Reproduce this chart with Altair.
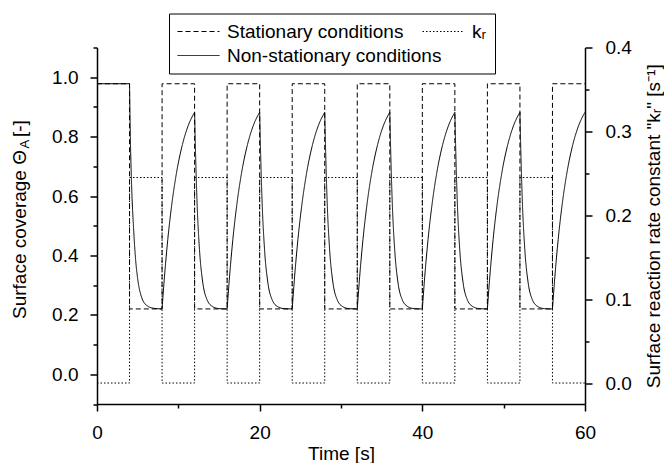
import altair as alt
import pandas as pd

FONT = "Liberation Sans"

# ---- data ----
series_names = ["Stationary conditions", "kᵣ", "Non-stationary conditions"]
# legend fills column by column: first column Stationary / Non-stationary, second k_r
legend_order = ["Stationary conditions", "Non-stationary conditions", "kᵣ"]

# switching instants of the square-wave (s)
step_time = [0, 4, 4, 8, 8, 12, 12, 16, 16, 20, 20, 24, 24, 28, 28, 32,
             32, 36, 36, 40, 40, 44, 44, 48, 48, 52, 52, 56, 56, 60]
# surface reaction rate constant k_r (1/s)
kr_value = [0, 0, 0.245, 0.245, 0, 0, 0.245, 0.245, 0, 0, 0.245, 0.245, 0, 0,
            0.245, 0.245, 0, 0, 0.245, 0.245, 0, 0, 0.245, 0.245, 0, 0,
            0.245, 0.245, 0, 0]
# stationary surface coverage
stat_theta = [0.978, 0.978, 0.22, 0.22, 0.978, 0.978, 0.22, 0.22, 0.978, 0.978,
              0.22, 0.22, 0.978, 0.978, 0.22, 0.22, 0.978, 0.978, 0.22, 0.22,
              0.978, 0.978, 0.22, 0.22, 0.978, 0.978, 0.22, 0.22, 0.978, 0.978]

# non-stationary surface coverage
ns_time = [0, 4, 4.1, 4.25, 4.5, 4.75, 5.0, 5.5, 6.2, 7.0,
           8, 8.3, 8.7, 9.2, 9.8, 10.5, 11.2, 12, 12.1, 12.3, 12.6, 13, 13.5, 14.2, 15,
           16, 16.3, 16.7, 17.2, 17.8, 18.5, 19.2, 20, 20.1, 20.3, 20.6, 21, 21.5, 22.2, 23,
           24, 24.3, 24.7, 25.2, 25.8, 26.5, 27.2, 28, 28.1, 28.3, 28.6, 29, 29.5, 30.2, 31,
           32, 32.3, 32.7, 33.2, 33.8, 34.5, 35.2, 36, 36.1, 36.3, 36.6, 37, 37.5, 38.2, 39,
           40, 40.3, 40.7, 41.2, 41.8, 42.5, 43.2, 44, 44.1, 44.3, 44.6, 45, 45.5, 46.2, 47,
           48, 48.3, 48.7, 49.2, 49.8, 50.5, 51.2, 52, 52.1, 52.3, 52.6, 53, 53.5, 54.2, 55,
           56, 56.3, 56.7, 57.2, 57.8, 58.5, 59.2, 60]
ns_theta = [0.978, 0.978, 0.80, 0.64, 0.49, 0.385, 0.322, 0.258, 0.230, 0.222,
            0.22, 0.33, 0.453, 0.573, 0.682, 0.773, 0.836, 0.882, 0.762, 0.58, 0.42, 0.31, 0.253, 0.228, 0.221,
            0.22, 0.33, 0.453, 0.573, 0.682, 0.773, 0.836, 0.882, 0.762, 0.58, 0.42, 0.31, 0.253, 0.228, 0.221,
            0.22, 0.33, 0.453, 0.573, 0.682, 0.773, 0.836, 0.882, 0.762, 0.58, 0.42, 0.31, 0.253, 0.228, 0.221,
            0.22, 0.33, 0.453, 0.573, 0.682, 0.773, 0.836, 0.882, 0.762, 0.58, 0.42, 0.31, 0.253, 0.228, 0.221,
            0.22, 0.33, 0.453, 0.573, 0.682, 0.773, 0.836, 0.882, 0.762, 0.58, 0.42, 0.31, 0.253, 0.228, 0.221,
            0.22, 0.33, 0.453, 0.573, 0.682, 0.773, 0.836, 0.882, 0.762, 0.58, 0.42, 0.31, 0.253, 0.228, 0.221,
            0.22, 0.33, 0.453, 0.573, 0.682, 0.773, 0.836, 0.882]

x_ticks = [0, 10, 20, 30, 40, 50, 60]
left_ticks = [-0.1, 0.0, 0.1, 0.2, 0.3, 0.4, 0.5, 0.6, 0.7, 0.8, 0.9, 1.0, 1.1]
right_ticks = [0.0, 0.05, 0.1, 0.15, 0.2, 0.25, 0.3, 0.35, 0.4]


def split_monotone(ts, vs):
    """split a polyline into monotone pieces (shared end points)"""
    rows, seg, prev = [], 0, None
    for i in range(len(ts)):
        if i > 0:
            d = vs[i] - vs[i - 1]
            s = (d > 0) - (d < 0)
            if prev is not None and s != prev:
                seg += 1
                rows.append((ts[i - 1], vs[i - 1], seg))
            prev = s
        rows.append((ts[i], vs[i], seg))
    return rows


stat_df = pd.DataFrame({"t": step_time, "v": stat_theta,
                        "series": series_names[0], "i": range(len(step_time))})
kr_df = pd.DataFrame({"t": step_time, "v": kr_value,
                      "series": series_names[1], "i": range(len(step_time))})
ns_rows = split_monotone(ns_time, ns_theta)
ns_df = pd.DataFrame(ns_rows, columns=["t", "v", "seg"])
ns_df["series"] = series_names[2]
ns_df["i"] = range(len(ns_df))

W, H = 488, 356.5

sd = alt.StrokeDash(
    "series:N",
    scale=alt.Scale(domain=series_names, range=[[5, 3], [1.5, 2], [1, 0]]),
    legend=alt.Legend(
        title=None, orient="none", legendX=72, legendY=-34,
        values=legend_order,
        columns=2, gridAlign="none", columnPadding=-20, rowPadding=4,
        padding=8, strokeColor="black", clipHeight=20,
        symbolType="stroke", symbolSize=1764, symbolStrokeWidth=1,
        symbolStrokeColor="black", labelFont=FONT, labelFontSize=19,
        labelColor="black", labelOffset=7, labelLimit=500,
        labelExpr="datum.label == 'kᵣ' ? datum.label + '\u00a0\u00a0\u00a0\u00a0\u00a0\u00a0' : datum.label",
    ),
)

x_enc = alt.X(
    "t:Q", scale=alt.Scale(domain=[0, 60], nice=False),
    axis=alt.Axis(
        values=x_ticks, title="Time [s]",
        labelExpr="datum.value % 20 == 0 ? datum.label : ''",
        tickSize={"condition": {"test": "datum.value % 20 == 0", "value": 7}, "value": 4},
        labelPadding=12, labelFlush=False, labelOverlap=False,
        titleX=W / 2, titleY=55, titleBaseline="alphabetic", titleAlign="center",
    ),
)

left_y = alt.Y(
    "v:Q", scale=alt.Scale(domain=[-0.1, 1.1], nice=False, zero=False),
    axis=alt.Axis(
        orient="left", values=left_ticks, title="",
        labelExpr="abs(round(datum.value*10)) % 2 == 0 ? format(datum.value, '.1f') : ''",
        tickSize={"condition": {"test": "abs(round(datum.value*10)) % 2 == 0", "value": 7}, "value": 4},
        labelPadding=12, labelOverlap=False,
    ),
)

right_y = alt.Y(
    "v:Q", scale=alt.Scale(domain=[-0.025, 0.4], nice=False, zero=False),
    axis=alt.Axis(
        orient="right", values=right_ticks,
        title='Surface reaction rate constant  "kᵣ" [s⁻¹]',
        labelExpr="round(datum.value*20) % 2 == 0 ? format(datum.value, '.1f') : ''",
        tickSize={"condition": {"test": "round(datum.value*20) % 2 == 0", "value": 7}, "value": 4},
        labelPadding=13, labelOverlap=False,
        titleAngle=270, titleX=74, titleY=H / 2, titleAlign="center",
        titleBaseline="alphabetic",
    ),
)

stat = alt.Chart(stat_df).mark_line(color="black", strokeWidth=1).encode(
    x=x_enc, y=left_y, strokeDash=sd, order="i:Q")
ns = alt.Chart(ns_df).mark_line(color="black", strokeWidth=1, interpolate="monotone").encode(
    x=x_enc, y=left_y, strokeDash=sd, detail="seg:N", order="i:Q")
left = alt.layer(stat, ns)

kr = alt.Chart(kr_df).mark_line(color="black", strokeWidth=1).encode(
    x=x_enc, y=right_y, strokeDash=sd, order="i:Q")

one = pd.DataFrame({"a": [0]})
t_main = alt.Chart(one).mark_text(
    text="Surface coverage Θ", angle=270, align="right", baseline="alphabetic",
    font=FONT, fontSize=19, color="black").encode(x=alt.value(-71.5), y=alt.value(102.5))
t_sub = alt.Chart(one).mark_text(
    text="A", angle=270, align="left", baseline="alphabetic",
    font=FONT, fontSize=13, color="black").encode(x=alt.value(-68), y=alt.value(101))
t_end = alt.Chart(one).mark_text(
    text="[-]", angle=270, align="left", baseline="alphabetic",
    font=FONT, fontSize=19, color="black").encode(x=alt.value(-71.5), y=alt.value(89.5))

chart = alt.layer(left, kr, t_main, t_sub, t_end).resolve_scale(
    y="independent"
).properties(
    width=W, height=H,
    autosize=alt.AutoSizeParams(type="none"),
    padding={"left": 89, "top": 39.5, "right": 79, "bottom": 59},
).configure_view(
    strokeWidth=0
).configure_axis(
    grid=False, domainColor="black", domainWidth=1.5, tickColor="black", tickWidth=1.5,
    labelFont=FONT, labelFontSize=19, labelColor="black",
    titleFont=FONT, titleFontSize=19, titleFontWeight="normal", titleColor="black",
)

chart.save("out.html", embed_options={"renderer": "svg", "actions": False})
